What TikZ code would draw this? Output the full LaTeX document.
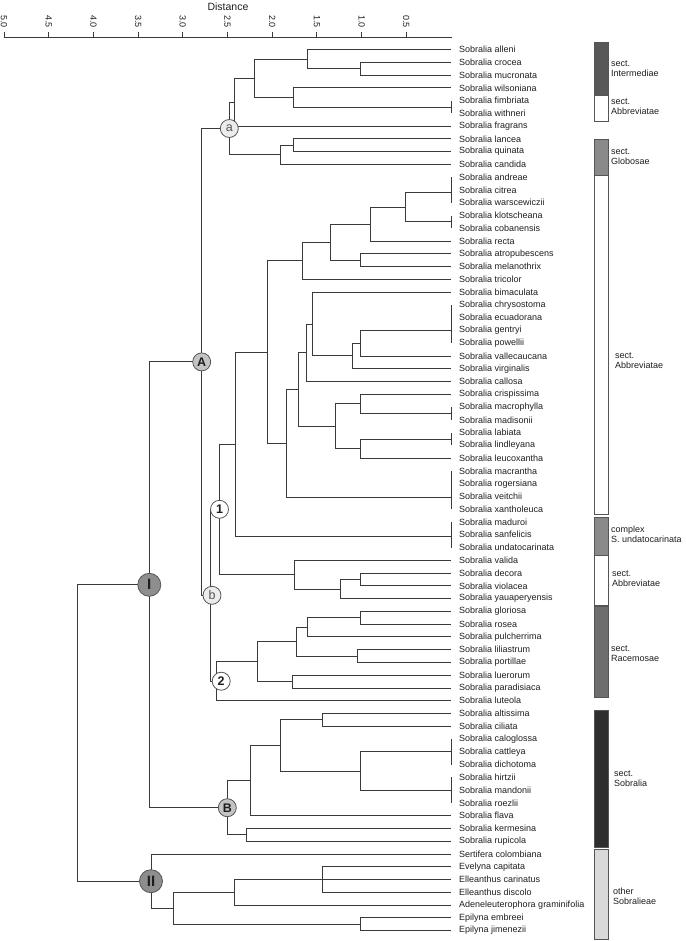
\documentclass[tikz,border=0pt]{standalone}
\usepackage{fontspec}
\setmainfont{Liberation Sans}
\definecolor{ln}{HTML}{3A3A3A}
\definecolor{txt}{HTML}{1E1E1E}
\definecolor{bord}{HTML}{555555}
\definecolor{fa}{HTML}{ECECEC}
\definecolor{fA}{HTML}{C4C4C4}
\definecolor{fI}{HTML}{8E8E8E}
\definecolor{bInt}{HTML}{585858}
\definecolor{bGlo}{HTML}{8A8A8A}
\definecolor{bRac}{HTML}{6E6E6E}
\definecolor{bSob}{HTML}{2E2E2E}
\definecolor{bOth}{HTML}{D9D9D9}
\newcommand\tjoin[2]{\foreach \cc in {#2}{\draw[edge] (#1) |- (\cc);}}
\begin{document}
\begin{tikzpicture}[x=1pt,y=-1pt,
  edge/.style={draw=ln, line width=0.9pt},
  leaf/.style={anchor=west, inner sep=0pt, text=txt, font=\fontsize{9}{10}\selectfont},
  ticklab/.style={rotate=-90, inner sep=0pt, text=txt, font=\fontsize{9}{10}\selectfont},
  barlab/.style={anchor=west, inner sep=0pt, align=left, text=txt, font=\fontsize{9}{10}\selectfont},
  bar/.style={draw=bord, line width=0.8pt},
  cirS/.style={circle, draw=bord, line width=0.8pt, minimum size=18pt, inner sep=0pt, font=\fontsize{12.5}{12.5}\selectfont},
  cirL/.style={circle, draw=bord, line width=0.8pt, minimum size=23pt, inner sep=0pt, font=\fontsize{15}{15}\selectfont\bfseries}]
\useasboundingbox (0,0) rectangle (685,941);

% axis
\node[text=txt, font=\fontsize{10.5}{11}\selectfont] (axlab) at (228,6.5) {Distance};
\coordinate (ax0) at (4,37);
\coordinate (ax1) at (452,37);
\draw[edge] (ax0) -- (ax1);
\foreach \d/\t [count=\k] in {5.0/5.0,4.5/4.5,4.0/4.0,3.5/3.5,3.0/3.0,2.5/2.5,2.0/2.0,1.5/1.5,1.0/1.0,0.5/0.5}{
  \coordinate (tkb\k) at ({451-89.4*\d},37);
  \coordinate (tkt\k) at ({451-89.4*\d},32);
  \draw[edge] (tkb\k) -- (tkt\k);
  \node[ticklab] (tl\k) at ({451-89.4*\d},21.5) {\t};
}

% leaves
\foreach \i/\nm in {1/Sobralia alleni,2/Sobralia crocea,3/Sobralia mucronata,4/Sobralia wilsoniana,5/Sobralia fimbriata,6/Sobralia withneri,7/Sobralia fragrans,8/Sobralia lancea,9/Sobralia quinata,10/Sobralia candida,11/Sobralia andreae,12/Sobralia citrea,13/Sobralia warscewiczii,14/Sobralia klotscheana,15/Sobralia cobanensis,16/Sobralia recta,17/Sobralia atropubescens,18/Sobralia melanothrix,19/Sobralia tricolor,20/Sobralia bimaculata,21/Sobralia chrysostoma,22/Sobralia ecuadorana,23/Sobralia gentryi,24/Sobralia powellii,25/Sobralia vallecaucana,26/Sobralia virginalis,27/Sobralia callosa,28/Sobralia crispissima,29/Sobralia macrophylla,30/Sobralia madisonii,31/Sobralia labiata,32/Sobralia lindleyana,33/Sobralia leucoxantha,34/Sobralia macrantha,35/Sobralia rogersiana,36/Sobralia veitchii,37/Sobralia xantholeuca,38/Sobralia maduroi,39/Sobralia sanfelicis,40/Sobralia undatocarinata,41/Sobralia valida,42/Sobralia decora,43/Sobralia violacea,44/Sobralia yauaperyensis,45/Sobralia gloriosa,46/Sobralia rosea,47/Sobralia pulcherrima,48/Sobralia liliastrum,49/Sobralia portillae,50/Sobralia luerorum,51/Sobralia paradisiaca,52/Sobralia luteola,53/Sobralia altissima,54/Sobralia ciliata,55/Sobralia caloglossa,56/Sobralia cattleya,57/Sobralia dichotoma,58/Sobralia hirtzii,59/Sobralia mandonii,60/Sobralia roezlii,61/Sobralia flava,62/Sobralia kermesina,63/Sobralia rupicola,64/Sertifera colombiana,65/Evelyna capitata,66/Elleanthus carinatus,67/Elleanthus discolo,68/Adeneleuterophora graminifolia,69/Epilyna embreei,70/Epilyna jimenezii}{
  \coordinate (t\i) at (451,{49.5+12.77*(\i-1)});
  \node[leaf] (n\i) at (459,{49.5+12.77*(\i-1)}) {\nm};
}

% internal nodes
\coordinate (c23) at (360,68.7);
\coordinate (c1) at (307.3,59.1);
\coordinate (c56) at (451,107);
\coordinate (c4) at (293.3,97.4);
\coordinate (g1) at (254,78.25);
\coordinate (g2) at (234.3,102.2);
\coordinate (c89) at (293.3,145.3);
\coordinate (c810) at (280.7,154.9);
\coordinate (ca) at (229.3,128.5);
\coordinate (p1) at (451,192);
\coordinate (p2) at (451,221.9);
\coordinate (k1) at (405.7,207);
\coordinate (k2) at (370.7,224);
\coordinate (k3) at (360,260.2);
\coordinate (k4) at (330,242.1);
\coordinate (k5) at (302.3,260.7);
\coordinate (p3) at (451,330);
\coordinate (m1) at (360,343);
\coordinate (m2) at (352.7,355.9);
\coordinate (m3) at (312.3,324);
\coordinate (m4) at (306,352.8);
\coordinate (p4) at (451,413.4);
\coordinate (m5) at (360,403.9);
\coordinate (p5) at (451,439);
\coordinate (m6) at (360,448.6);
\coordinate (m7) at (335.7,426.2);
\coordinate (m8) at (298.3,389.5);
\coordinate (p6) at (451,497);
\coordinate (m9) at (286,443.3);
\coordinate (m10) at (267.3,352);
\coordinate (p7) at (451,536);
\coordinate (m11) at (235,444);
\coordinate (p8) at (360,579.5);
\coordinate (v1) at (340.7,589);
\coordinate (v2) at (294.3,574.7);
\coordinate (c1n) at (219.5,509.3);
\coordinate (r1) at (360,617.8);
\coordinate (r2) at (307.7,627.3);
\coordinate (r3) at (357.3,656.1);
\coordinate (r4) at (296.7,641.7);
\coordinate (r5) at (292.7,681.6);
\coordinate (r6) at (257.7,661.7);
\coordinate (c2n) at (216.7,681.2);
\coordinate (cb) at (210.7,595.3);
\coordinate (cA) at (201.7,361.9);
\coordinate (p9) at (451,751.85);
\coordinate (p10) at (451,790.2);
\coordinate (s1) at (360,771);
\coordinate (s2) at (322.3,719.9);
\coordinate (s3) at (280.7,745.5);
\coordinate (s4) at (250,780.6);
\coordinate (s5) at (246.7,834.9);
\coordinate (cB) at (227.3,807.7);
\coordinate (cI) at (149.3,584.8);
\coordinate (o1) at (322.3,879.55);
\coordinate (o2) at (234.3,892.3);
\coordinate (o3) at (360,924.2);
\coordinate (o4) at (173.3,908.3);
\coordinate (cII) at (151,881.2);
\coordinate (root) at (77.7,733);

% edges
\tjoin{c23}{t2,t3}
\tjoin{c1}{t1,c23}
\tjoin{c56}{t5,t6}
\tjoin{c4}{t4,c56}
\tjoin{g1}{c1,c4}
\tjoin{g2}{g1,t7}
\tjoin{c89}{t8,t9}
\tjoin{c810}{c89,t10}
\tjoin{ca}{g2,c810}
\tjoin{p1}{t11,t12,t13}
\tjoin{p2}{t14,t15}
\tjoin{k1}{p1,p2}
\tjoin{k2}{k1,t16}
\tjoin{k3}{t17,t18}
\tjoin{k4}{k2,k3}
\tjoin{k5}{k4,t19}
\tjoin{p3}{t21,t22,t23,t24}
\tjoin{m1}{p3,t25}
\tjoin{m2}{m1,t26}
\tjoin{m3}{t20,m2}
\tjoin{m4}{m3,t27}
\tjoin{p4}{t29,t30}
\tjoin{m5}{t28,p4}
\tjoin{p5}{t31,t32}
\tjoin{m6}{p5,t33}
\tjoin{m7}{m5,m6}
\tjoin{m8}{m4,m7}
\tjoin{p6}{t34,t35,t36,t37}
\tjoin{m9}{m8,p6}
\tjoin{m10}{k5,m9}
\tjoin{p7}{t38,t39,t40}
\tjoin{m11}{m10,p7}
\tjoin{p8}{t42,t43}
\tjoin{v1}{p8,t44}
\tjoin{v2}{t41,v1}
\tjoin{c1n}{m11,v2}
\tjoin{r1}{t45,t46}
\tjoin{r2}{r1,t47}
\tjoin{r3}{t48,t49}
\tjoin{r4}{r2,r3}
\tjoin{r5}{t50,t51}
\tjoin{r6}{r4,r5}
\tjoin{c2n}{r6,t52}
\tjoin{cb}{c1n,c2n}
\tjoin{cA}{ca,cb}
\tjoin{p9}{t55,t56,t57}
\tjoin{p10}{t58,t59,t60}
\tjoin{s1}{p9,p10}
\tjoin{s2}{t53,t54}
\tjoin{s3}{s2,s1}
\tjoin{s4}{s3,t61}
\tjoin{s5}{t62,t63}
\tjoin{cB}{s4,s5}
\tjoin{cI}{cA,cB}
\tjoin{o1}{t65,t66,t67}
\tjoin{o2}{o1,t68}
\tjoin{o3}{t69,t70}
\tjoin{o4}{o2,o3}
\tjoin{cII}{t64,o4}
\tjoin{root}{cI,cII}

% circle labels
\node[cirS, fill=fa, text=bord] (La) at (ca) {a};
\node[cirS, fill=fA, text=txt, font=\fontsize{12.5}{12.5}\selectfont\bfseries] (LA) at (cA) {A};
\node[cirS, fill=white, text=txt, font=\fontsize{12.5}{12.5}\selectfont\bfseries] (L1) at (c1n) {1};
\node[cirS, fill=fa, text=bord] (Lb) at ([xshift=1.3pt]cb) {b};
\node[cirS, fill=white, text=txt, font=\fontsize{12.5}{12.5}\selectfont\bfseries] (L2) at ([xshift=4.5pt]c2n) {2};
\node[cirS, fill=fA, text=txt, font=\fontsize{12.5}{12.5}\selectfont\bfseries] (LB) at (cB) {B};
\node[cirL, fill=fI, text=txt] (LI) at (cI) {I};
\node[cirL, fill=fI, text=txt] (LII) at (cII) {II};

% bars
\draw[bar, fill=bInt] (594.3,42.7) rectangle (608.3,95);
\draw[bar, fill=white] (594.3,95) rectangle (608.3,121);
\draw[bar, fill=bGlo] (594.3,139.3) rectangle (608.3,175.7);
\draw[bar, fill=white] (594.3,175.7) rectangle (608.3,514);
\draw[bar, fill=bGlo] (594.3,517.3) rectangle (608.3,555.7);
\draw[bar, fill=white] (594.3,555.7) rectangle (608.3,605);
\draw[bar, fill=bRac] (594.3,606.7) rectangle (608.3,697.3);
\draw[bar, fill=bSob] (594.3,710.7) rectangle (608.3,847.3);
\draw[bar, fill=bOth] (594.3,849) rectangle (608.3,939.3);

\node[barlab] (b1) at (611,68.5) {sect.\\Intermediae};
\node[barlab] (b2) at (611,107) {sect.\\Abbreviatae};
\node[barlab] (b3) at (611,157) {sect.\\Globosae};
\node[barlab] (b4) at (615,361) {sect.\\Abbreviatae};
\node[barlab] (b5) at (611,534.3) {complex\\S. undatocarinata};
\node[barlab] (b6) at (612,578.3) {sect.\\Abbreviatae};
\node[barlab] (b7) at (611,653.3) {sect.\\Racemosae};
\node[barlab] (b8) at (614,778.3) {sect.\\Sobralia};
\node[barlab] (b9) at (613,896.7) {other\\Sobralieae};
\end{tikzpicture}
\end{document}
